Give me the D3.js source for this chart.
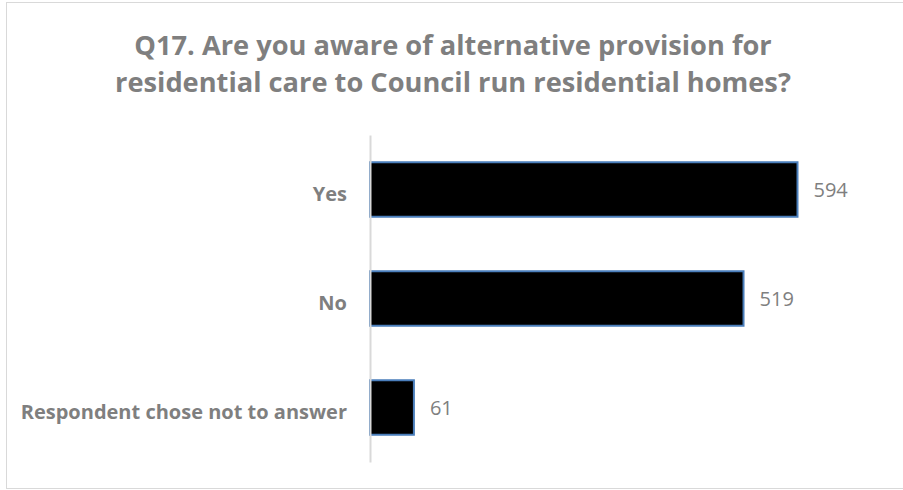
<!DOCTYPE html>
<html>
<head>
<meta charset="utf-8">
<script src="https://cdn.jsdelivr.net/npm/d3@7"></script>
<style>
  body { margin: 0; background: #fff; }
  svg { font-family: "Open Sans", "Noto Sans", sans-serif; }
</style>
</head>
<body>
<div id="chart"></div>
<script>
// chart data
const titleLines = ["Q17. Are you aware of alternative provision for",
                    "residential care to Council run residential homes?"];
const categories = ["Yes", "No", "Respondent chose not to answer"];
const counts = [594, 519, 61];

const W = 903, H = 490;
const margin = {top: 135, right: 106, bottom: 28, left: 370};
const width = W - margin.left - margin.right;
const height = H - margin.top - margin.bottom;

const svg = d3.select("#chart").append("svg")
  .attr("width", W)
  .attr("height", H);

// outer frame
svg.append("rect")
  .attr("x", 6.5).attr("y", 2.5)
  .attr("width", W + 10).attr("height", H - 4)
  .attr("fill", "#fff")
  .attr("stroke", "#d9d9d9");

// title, fitted to the reference width
const title = svg.append("g").attr("class", "title");
title.selectAll("text")
  .data(titleLines)
  .join("text")
  .attr("x", 453)
  .attr("y", (d, i) => 55 + i * 37)
  .attr("text-anchor", "middle")
  .attr("font-weight", "bold")
  .attr("font-size", 24)
  .attr("fill", "#7f7f7f")
  .text(d => d);
const t2 = title.selectAll("text").nodes()[1];
const fs = 24 * 676 / t2.getComputedTextLength();
title.selectAll("text").attr("font-size", fs);

const g = svg.append("g")
  .attr("transform", `translate(${margin.left},${margin.top})`);

const x = d3.scaleLinear().domain([0, 594]).range([0, 427.5]);
const y = d3.scaleBand().domain(categories).range([0, height])
  .paddingInner(0.5).paddingOuter(0.25);

// bars
g.selectAll("rect.bar")
  .data(categories)
  .join("rect")
  .attr("class", "bar")
  .attr("x", 0)
  .attr("y", d => y(d))
  .attr("width", (d, i) => x(counts[i]))
  .attr("height", y.bandwidth())
  .attr("fill", "#000")
  .attr("stroke", "#4a7ebb")
  .attr("stroke-width", 2);

// y axis
const yAxis = d3.axisLeft(y).tickSize(0).tickPadding(23);
const yAxisG = g.append("g").call(yAxis);
yAxisG.select(".domain").attr("stroke", "#d9d9d9").attr("stroke-width", 2);
yAxisG.selectAll("text")
  .attr("font-family", "\"Open Sans\", sans-serif")
  .attr("font-size", 20)
  .attr("font-weight", "bold")
  .attr("fill", "#7f7f7f")
  .attr("dy", "0.55em");

// value labels
g.selectAll("text.val")
  .data(categories)
  .join("text")
  .attr("class", "val")
  .attr("x", (d, i) => x(counts[i]) + 16)
  .attr("y", d => y(d) + y.bandwidth() / 2)
  .attr("dy", "0.35em")
  .attr("font-size", 20)
  .attr("fill", "#7f7f7f")
  .text((d, i) => counts[i]);
</script>
</body>
</html>
